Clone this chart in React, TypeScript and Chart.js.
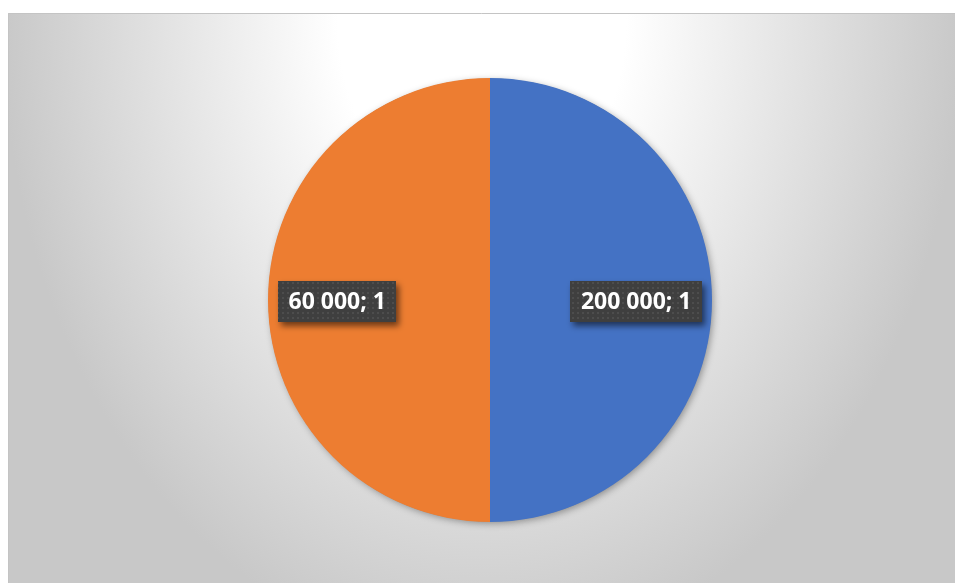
import React, { useEffect, useRef } from "react";
import { Chart, registerables } from "chart.js";

Chart.register(...registerables);

const categories = ["200 000", "60 000"];
const values = [1, 1];
const colors = ["#4472C4", "#ED7D31"];

const W = 957;
const H = 583;

function makePattern(ctx: CanvasRenderingContext2D) {
  const c = document.createElement("canvas");
  c.width = 5;
  c.height = 5;
  const p = c.getContext("2d")!;
  p.fillStyle = "#3f3f3f";
  p.fillRect(0, 0, 5, 5);
  p.fillStyle = "#4d4d4d";
  p.fillRect(2, 2, 2, 2);
  return ctx.createPattern(c, "repeat");
}

const bgPlugin = {
  id: "bg",
  beforeDraw(chart: any) {
    const ctx: CanvasRenderingContext2D = chart.ctx;
    const x0 = 8, y0 = 13, x1 = 955, y1 = 583;
    ctx.save();
    ctx.beginPath();
    ctx.rect(x0, y0, x1 - x0, y1 - y0);
    ctx.clip();
    const cx = 482, cy = 20;
    const rx = 480, ry = 640;
    ctx.translate(cx, cy);
    ctx.scale(1, ry / rx);
    const g = ctx.createRadialGradient(0, 0, 0, 0, 0, rx);
    g.addColorStop(0, "#ffffff");
    g.addColorStop(0.3, "#ffffff");
    g.addColorStop(1, "#c8c8c8");
    ctx.fillStyle = g;
    ctx.fillRect(-cx - 10, -cy - 10, W + 20, (H + 20) * (rx / ry) + 400);
    ctx.restore();
    ctx.save();
    ctx.strokeStyle = "#c4c4c4";
    ctx.lineWidth = 1;
    ctx.beginPath();
    ctx.moveTo(x0 + 0.5, y1);
    ctx.lineTo(x0 + 0.5, y0 + 0.5);
    ctx.lineTo(x1, y0 + 0.5);
    ctx.stroke();
    ctx.restore();
  },
  beforeDatasetsDraw(chart: any) {
    const meta = chart.getDatasetMeta(0);
    const arc = meta.data[0];
    if (!arc) return;
    const ctx: CanvasRenderingContext2D = chart.ctx;
    ctx.save();
    ctx.shadowColor = "rgba(0,0,0,0.35)";
    ctx.shadowBlur = 7;
    ctx.shadowOffsetX = 2;
    ctx.shadowOffsetY = 2;
    ctx.fillStyle = "#888";
    ctx.beginPath();
    ctx.arc(arc.x, arc.y, arc.outerRadius - 0.5, 0, Math.PI * 2);
    ctx.fill();
    ctx.restore();
  },
  afterDatasetsDraw(chart: any) {
    const ctx: CanvasRenderingContext2D = chart.ctx;
    const meta = chart.getDatasetMeta(0);
    const pattern = makePattern(ctx);
    meta.data.forEach((arc: any, i: number) => {
      const text = `${categories[i]}; ${values[i]}`;
      ctx.save();
      ctx.font = "bold 23px 'Open Sans', Lato, sans-serif";
      const tw = ctx.measureText(text).width;
      const bw = tw + 21;
      const bh = 41;
      const mid = (arc.startAngle + arc.endAngle) / 2;
      const rr = arc.outerRadius - 10;
      const ex = arc.x + Math.cos(mid) * rr;
      const ey = arc.y + Math.sin(mid) * rr;
      let bx: number;
      if (Math.cos(mid) >= 0) bx = ex - bw;
      else bx = ex;
      const by = ey - bh / 2 + 1;
      ctx.shadowColor = "rgba(0,0,0,0.55)";
      ctx.shadowBlur = 6;
      ctx.shadowOffsetX = 3;
      ctx.shadowOffsetY = 4;
      ctx.fillStyle = pattern || "#404040";
      ctx.fillRect(Math.round(bx), Math.round(by), Math.round(bw), bh);
      ctx.shadowColor = "transparent";
      ctx.fillStyle = "#ffffff";
      ctx.textAlign = "center";
      ctx.textBaseline = "middle";
      ctx.fillText(text, bx + bw / 2, by + bh / 2 + 1);
      ctx.restore();
    });
  },
};

export default function App() {
  const ref = useRef<HTMLCanvasElement | null>(null);
  useEffect(() => {
    if (!ref.current) return;
    const chart = new Chart(ref.current, {
      type: "pie",
      data: {
        labels: categories,
        datasets: [
          {
            data: values,
            backgroundColor: colors,
            borderWidth: 0,
          },
        ],
      },
      options: {
        responsive: false,
        animation: false,
        devicePixelRatio: 1,
        layout: { padding: { top: 78, bottom: 61, left: 268, right: 245 } },
        plugins: {
          legend: { display: false },
          tooltip: { enabled: false },
        },
      },
      plugins: [bgPlugin],
    });
    return () => chart.destroy();
  }, []);
  return (
    <div style={{ position: "absolute", left: 0, top: 0, width: W, height: H }}>
      <canvas ref={ref} width={W} height={H} style={{ display: "block" }} />
    </div>
  );
}
